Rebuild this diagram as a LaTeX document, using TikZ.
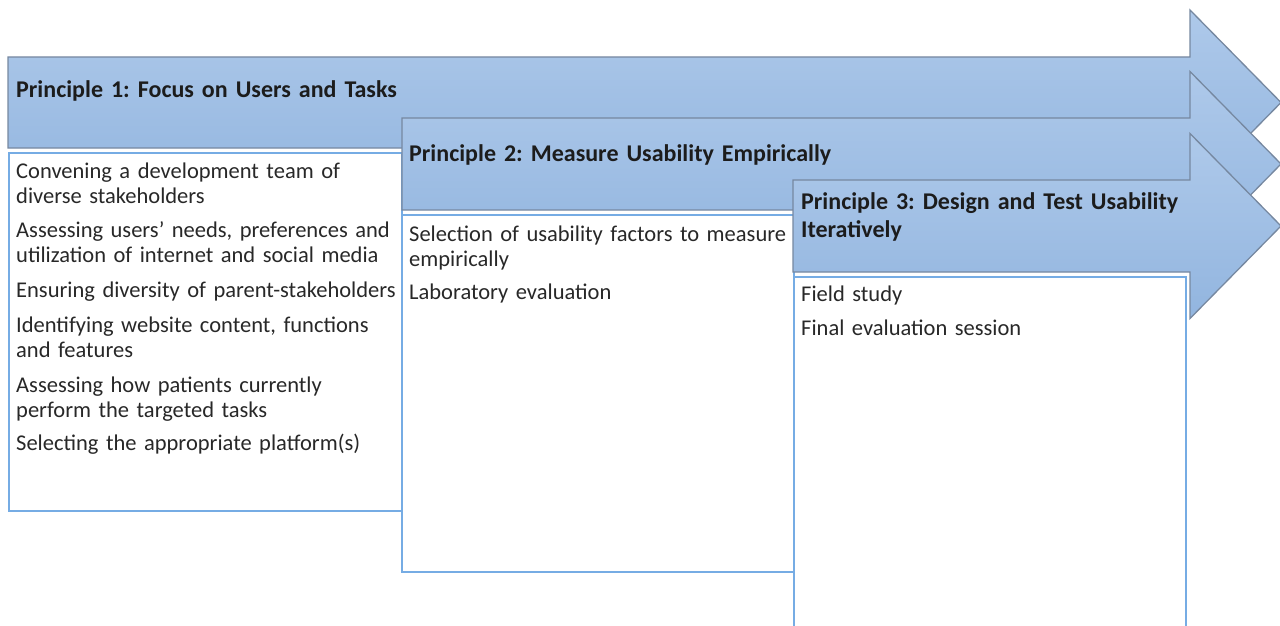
\documentclass[tikz,border=0pt]{standalone}
\usepackage{fontspec}
\setmainfont{Carlito}
\frenchspacing
\definecolor{arrtop}{RGB}{174,201,234}
\definecolor{arrbot}{RGB}{146,181,223}
\definecolor{arredge}{RGB}{118,136,160}
\definecolor{boxedge}{RGB}{118,172,228}
\definecolor{txt}{RGB}{28,28,28}
\definecolor{itemtxt}{RGB}{40,40,40}
\tikzset{
  arrowshape/.style={draw=arredge, line width=1.3pt, top color=arrtop, bottom color=arrbot},
  itembox/.style={draw=boxedge, line width=2.4pt, fill=white},
  ptitle/.style={anchor=base west, inner sep=0pt, font=\fontsize{24}{28}\selectfont\bfseries, text=txt, text width=500pt, align=left},
  pitem/.style={anchor=base west, inner sep=0pt, font=\fontsize{22.5}{25}\selectfont, text=itemtxt, text width=385pt, align=left},
}
\begin{document}
\begin{tikzpicture}[x=1pt,y=-1pt]
\useasboundingbox (0,0) rectangle (1280,626);
% Principle 1
\path[arrowshape] (8,57) -- (1190,57) -- (1190,10) -- (1281,102.5) -- (1190,195) -- (1190,148) -- (8,148) -- cycle;
\node[ptitle] (t1) at (16,98) {Principle 1: Focus on Users and Tasks};
\path[itembox] (9,153) rectangle (402,511);
\node[pitem] (a1) at (16,178) {Convening a development team of\\diverse stakeholders};
\node[pitem] (a2) at (16,237) {Assessing users’ needs, preferences and\\utilization of internet and social media};
\node[pitem] (a3) at (16,297) {Ensuring diversity of parent-stakeholders};
\node[pitem] (a4) at (16,332) {Identifying website content, functions\\and features};
\node[pitem] (a5) at (16,392) {Assessing how patients currently\\perform the targeted tasks};
\node[pitem] (a6) at (16,450) {Selecting the appropriate platform(s)};
% Principle 2
\path[arrowshape] (402,118) -- (1190,118) -- (1190,71.5) -- (1281,164) -- (1190,256.5) -- (1190,210) -- (402,210) -- cycle;
\node[ptitle] (t2) at (409,161) {Principle 2: Measure Usability Empirically};
\path[itembox] (402,215) rectangle (794,572);
\node[pitem] (b1) at (409,241) {Selection of usability factors to measure\\empirically};
\node[pitem] (b2) at (409,299) {Laboratory evaluation};
% Principle 3
\path[arrowshape] (793,180) -- (1190,180) -- (1190,133.5) -- (1281,226) -- (1190,318.5) -- (1190,272) -- (793,272) -- cycle;
\node[ptitle] (t3) at (801,209) {Principle 3: Design and Test Usability\\Iteratively};
\path[itembox] (794,277) rectangle (1186,640);
\node[pitem] (c1) at (801,301) {Field study};
\node[pitem] (c2) at (801,335) {Final evaluation session};
\end{tikzpicture}
\end{document}
